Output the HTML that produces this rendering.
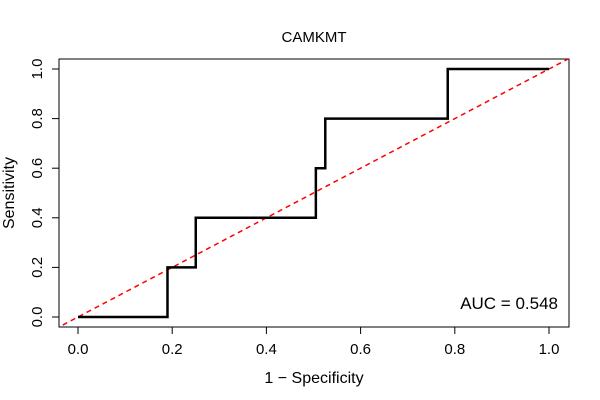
<!DOCTYPE html>
<html><head><meta charset="utf-8"><style>body{margin:0;background:#fff}svg{display:block;font-family:"Liberation Sans",Arial,sans-serif}</style></head>
<body>
<svg id="chart" width="600" height="400">
<defs><clipPath id="pc"><rect x="59" y="59" width="510" height="268"/></clipPath></defs>
<rect x="0" y="0" width="600" height="400" fill="#fff"/>
<text x="314" y="42" font-size="15" text-anchor="middle">CAMKMT</text>
<rect x="59" y="59" width="510" height="268" fill="none" stroke="#000" stroke-width="1"/>
<g id="xaxis"></g>
<g id="yaxis"></g>
<text x="314" y="383" font-size="16" text-anchor="middle">1 − Specificity</text>
<text transform="translate(14,193) rotate(-90)" font-size="16" text-anchor="middle">Sensitivity</text>
<g clip-path="url(#pc)"><line id="diag" stroke="#f00" stroke-width="1.5" stroke-dasharray="5,4"/></g>
<path id="roc" fill="none" stroke="#000" stroke-width="2.5"/>
<text x="558" y="309" font-size="17" text-anchor="end">AUC = 0.548</text>
</svg>
<script>
const fprValues = [0, 0.19, 0.19, 0.25, 0.25, 0.505, 0.505, 0.525, 0.525, 0.785, 0.785, 1];
const tprValues = [0, 0, 0.2, 0.2, 0.4, 0.4, 0.6, 0.6, 0.8, 0.8, 1, 1];
const tickValues = [0, 0.2, 0.4, 0.6, 0.8, 1];
const tickLabels = ["0.0", "0.2", "0.4", "0.6", "0.8", "1.0"];
const NS = "http://www.w3.org/2000/svg";
const xs = v => 78 + v * 471;
const ys = v => 317 - v * 248;
function mk(tag, attrs, parent){const e=document.createElementNS(NS,tag);for(const k in attrs)e.setAttribute(k,attrs[k]);parent.appendChild(e);return e;}
const xa=document.getElementById('xaxis'), ya=document.getElementById('yaxis');
mk('line',{x1:xs(0),x2:xs(1),y1:327,y2:327,stroke:'#000'},xa);
mk('line',{x1:59,x2:59,y1:ys(0),y2:ys(1),stroke:'#000'},ya);
tickValues.forEach((v,i)=>{
  const t=mk('line',{x1:xs(v),x2:xs(v),y1:327,y2:334,stroke:'#000'},xa);
  
  
  const l=mk('text',{x:xs(v),y:354,'font-size':15,'text-anchor':'middle'},xa);
  l.textContent=tickLabels[i];
  
  
  const t2=mk('line',{x1:52,x2:59,y1:ys(v),y2:ys(v),stroke:'#000'},ya);
  
  
  const l2=mk('text',{x:0,y:0,'font-size':15,'text-anchor':'middle',transform:`translate(42,${ys(v)}) rotate(-90)`},ya);
  l2.textContent=tickLabels[i];
  
  
});
const d=document.getElementById('diag');
d.setAttribute('x1',xs(-0.1));d.setAttribute('y1',ys(-0.1));d.setAttribute('x2',xs(1.1));d.setAttribute('y2',ys(1.1));
document.getElementById('roc').setAttribute('d',fprValues.map((f,i)=>(i?'L':'M')+xs(f)+','+ys(tprValues[i])).join(' '));
</script>
</body></html>
